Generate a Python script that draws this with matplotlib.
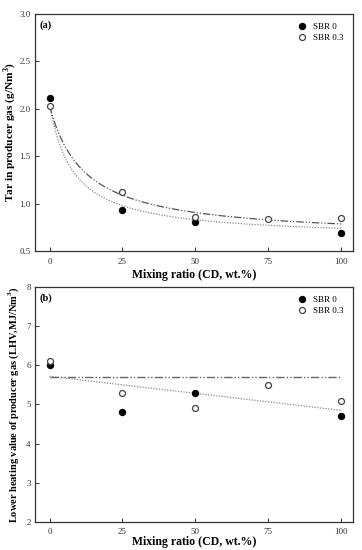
import numpy as np
import matplotlib
matplotlib.use('Agg')
import matplotlib.pyplot as plt

plt.rcParams['font.family'] = ['Liberation Serif', 'DejaVu Serif']
plt.rcParams['mathtext.fontset'] = 'custom'
plt.rcParams['mathtext.rm'] = 'Liberation Serif'
plt.rcParams['mathtext.bf'] = 'Liberation Serif:bold'

# data - panel (a), tar
x_sbr0 = [0, 25, 50, 100]
tar_sbr0 = [2.11, 0.93, 0.81, 0.69]
x_sbr03 = [0, 25, 50, 75, 100]
tar_sbr03 = [2.03, 1.12, 0.86, 0.84, 0.85]

# data - panel (b), LHV
lhv_sbr0 = [6.0, 4.8, 5.3, 4.7]
lhv_sbr03 = [6.1, 5.3, 4.9, 5.5, 5.1]

# fitted trend lines
# tar: y = a + b / (x + c)
fit_tar_sbr0 = (0.635, 11.32, 8.0)
fit_tar_sbr03 = (0.636, 16.73, 12.0)
# lhv: straight lines, value at x=0 and x=100
fit_lhv_sbr0 = (5.72, 4.85)
fit_lhv_sbr03 = (5.70, 5.70)

xticks = [0, 25, 50, 75, 100]

fig = plt.figure(figsize=(3.62, 5.5), dpi=100)
ax1 = fig.add_axes([0.0967, 0.5436, 0.878, 0.431])
ax2 = fig.add_axes([0.0967, 0.0510, 0.878, 0.4271])

xs = np.linspace(0, 100, 200)

def hyp(p, x):
    return p[0] + p[1] / (x + p[2])

dot = (0, (1, 1.2))
dashdotdot = (0, (6, 1.5, 1, 1.5, 1, 1.5))

ax1.plot(xs, hyp(fit_tar_sbr0, xs), ls=dot, color='#8a8a8a', lw=0.9)
ax1.plot(xs, hyp(fit_tar_sbr03, xs), ls=dashdotdot, color='#555555', lw=0.9)
ax1.plot(x_sbr0, tar_sbr0, 'o', color='black', ms=4.3, label='SBR 0')
ax1.plot(x_sbr03, tar_sbr03, 'o', mfc='white', mec='#444444', mew=0.9, ms=4.3, label='SBR 0.3')
ax1.set_ylim(0.5, 3.0)
ax1.set_yticks([0.5, 1.0, 1.5, 2.0, 2.5, 3.0])
ax1.set_ylabel('Tar in producer gas (g/Nm$^{\\mathbf{3}}$)', fontsize=8.2, fontweight='bold', labelpad=1)
ax1.text(0.015, 0.975, '(a)', transform=ax1.transAxes, fontsize=7.5, fontweight='bold', va='top')

ax2.plot([0, 100], list(fit_lhv_sbr0), ls=dot, color='#8a8a8a', lw=0.9)
ax2.plot([0, 100], list(fit_lhv_sbr03), ls=dashdotdot, color='#666666', lw=1.0)
ax2.plot(x_sbr0, lhv_sbr0, 'o', color='black', ms=4.3, label='SBR 0')
ax2.plot(x_sbr03, lhv_sbr03, 'o', mfc='white', mec='#444444', mew=0.9, ms=4.3, label='SBR 0.3')
ax2.set_ylim(2, 8)
ax2.set_yticks([2, 3, 4, 5, 6, 7, 8])
ax2.set_ylabel('Lower heating value of producer gas (LHV,MJ/Nm$^{\\mathbf{3}}$)', fontsize=7.5, fontweight='bold', labelpad=4)
ax2.text(0.015, 0.975, '(b)', transform=ax2.transAxes, fontsize=7.5, fontweight='bold', va='top')

for ax in (ax1, ax2):
    ax.set_xlim(-5, 104)
    ax.set_xticks(xticks)
    ax.set_xlabel('Mixing ratio (CD, wt.%)', fontsize=8.5, fontweight='bold', labelpad=2)
    ax.tick_params(direction='in', length=3, width=0.7, labelsize=6.5, colors='#333333', pad=3)
    ax.tick_params(axis='x', pad=5)
    for s in ax.spines.values():
        s.set_linewidth(0.9)
        s.set_color('#333333')
    ax.legend(loc='upper right', frameon=False, fontsize=6.5, handletextpad=0.6,
              borderaxespad=0.6, handlelength=1.2, labelspacing=0.3)

# keep the bottom label inside the picture
ax2.tick_params(axis='x', pad=4)
ax2.xaxis.labelpad = 0

plt.savefig('out.png', dpi=100)
